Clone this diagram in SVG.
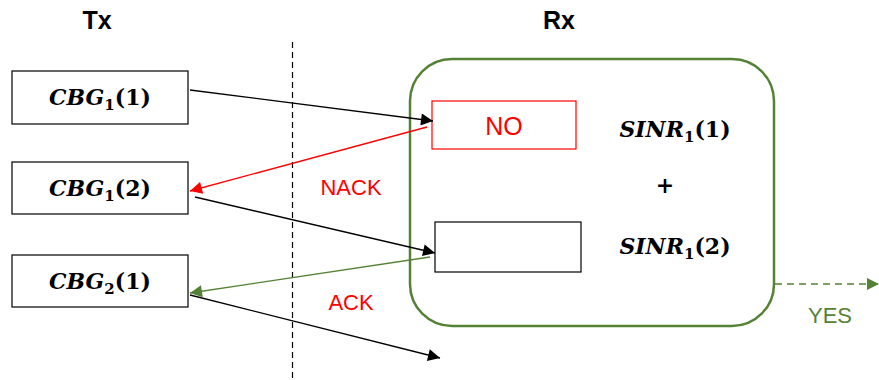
<svg xmlns="http://www.w3.org/2000/svg" width="879" height="380" viewBox="0 0 879 380">
<style>
.box{fill:#fff;stroke:#000;stroke-width:1.2}
.m{font-family:"DejaVu Serif","Liberation Serif",serif;font-weight:bold;font-size:22px;fill:#000}
.mi{font-style:italic}
.sub{font-size:15px}
.lbl{font-family:"Liberation Sans",Arial,sans-serif;font-size:22px}
.hdr{font-family:"Liberation Sans",Arial,sans-serif;font-size:25px;font-weight:bold;fill:#000}
</style>
<defs>
<marker id="ab" viewBox="0 0 10 10" refX="10" refY="5" markerWidth="14" markerHeight="12" markerUnits="userSpaceOnUse" orient="auto"><path d="M0,0L10,5L0,10z" fill="#000"/></marker>
<marker id="ar" viewBox="0 0 10 10" refX="10" refY="5" markerWidth="14" markerHeight="12" markerUnits="userSpaceOnUse" orient="auto"><path d="M0,0L10,5L0,10z" fill="#f00"/></marker>
<marker id="ag" viewBox="0 0 10 10" refX="10" refY="5" markerWidth="14" markerHeight="12" markerUnits="userSpaceOnUse" orient="auto"><path d="M0,0L10,5L0,10z" fill="#548235"/></marker>
</defs>
<text class="hdr" x="97" y="29" text-anchor="middle">Tx</text>
<text class="hdr" x="559" y="29" text-anchor="middle">Rx</text>
<line x1="292.5" y1="42" x2="292.5" y2="380" stroke="#000" stroke-width="1.2" stroke-dasharray="6,4"/>
<g id="rx">
<rect x="410" y="59" width="364" height="267" rx="42" fill="none" stroke="#548235" stroke-width="2.5"/>
<text class="m" x="675" y="137" text-anchor="middle"><tspan class="mi">SINR</tspan><tspan class="sub" dy="5">1</tspan><tspan dy="-5">(1)</tspan></text>
<text class="m" x="665" y="193" text-anchor="middle">+</text>
<text class="m" x="675" y="254" text-anchor="middle"><tspan class="mi">SINR</tspan><tspan class="sub" dy="5">1</tspan><tspan dy="-5">(2)</tspan></text>
</g>
<g id="no">
<rect x="432" y="101" width="144" height="48" fill="#fff" stroke="#f00" stroke-width="1.2"/>
<text x="504" y="135" text-anchor="middle" fill="#f00" font-family="Liberation Sans, Arial, sans-serif" font-size="25">NO</text>
</g>
<g id="empty"><rect class="box" x="435" y="222" width="146" height="50"/></g>
<g id="cbg11"><rect class="box" x="12" y="71" width="176" height="53"/>
<text class="m" x="100" y="105" text-anchor="middle"><tspan class="mi">CBG</tspan><tspan class="sub" dy="5">1</tspan><tspan dy="-5">(1)</tspan></text></g>
<g id="cbg12"><rect class="box" x="12" y="162" width="176" height="52"/>
<text class="m" x="100" y="196" text-anchor="middle"><tspan class="mi">CBG</tspan><tspan class="sub" dy="5">1</tspan><tspan dy="-5">(2)</tspan></text></g>
<g id="cbg21"><rect class="box" x="12" y="255" width="176" height="52"/>
<text class="m" x="100" y="289" text-anchor="middle"><tspan class="mi">CBG</tspan><tspan class="sub" dy="5">2</tspan><tspan dy="-5">(1)</tspan></text></g>
<g id="connectors" fill="none" stroke-width="1.3">
<line x1="190" y1="90" x2="433" y2="121" stroke="#000" marker-end="url(#ab)"/>
<line x1="427" y1="127" x2="190" y2="191" stroke="#f00" marker-end="url(#ar)"/>
<line x1="195" y1="197" x2="435" y2="253" stroke="#000" marker-end="url(#ab)"/>
<line x1="430" y1="257" x2="190" y2="293" stroke="#548235" marker-end="url(#ag)"/>
<line x1="190" y1="295" x2="440" y2="358" stroke="#000" marker-end="url(#ab)"/>
<line x1="775" y1="284" x2="879" y2="284" stroke="#548235" stroke-width="1.6" stroke-dasharray="7,5" marker-end="url(#ag)"/>
<text class="lbl" x="351" y="195" text-anchor="middle" fill="#f00" stroke="none">NACK</text>
<text class="lbl" x="351" y="310" text-anchor="middle" fill="#f00" stroke="none">ACK</text>
<text class="lbl" x="830" y="323" text-anchor="middle" fill="#548235" stroke="none">YES</text>
</g>
</svg>
